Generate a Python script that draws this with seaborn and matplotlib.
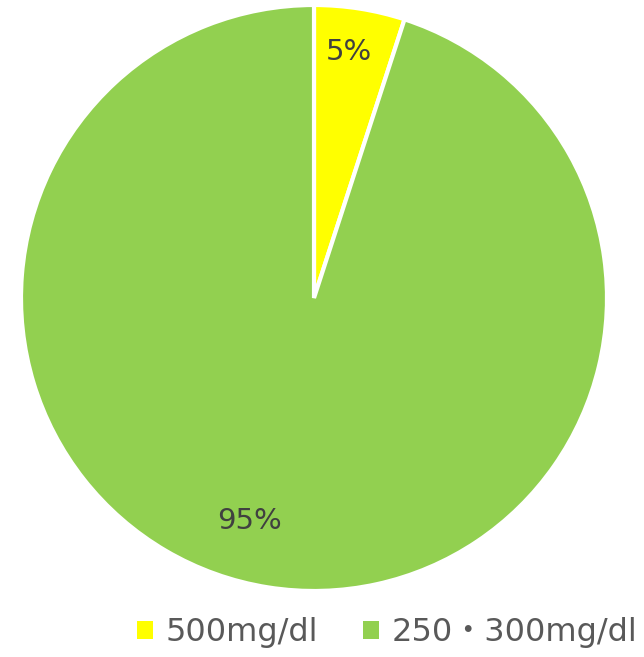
import matplotlib
matplotlib.use("Agg")
import matplotlib.pyplot as plt
import seaborn as sns
from matplotlib.patches import Patch

sns.set_theme(style="white")
plt.rcParams['font.family'] = ['DejaVu Sans', 'Noto Sans CJK JP']

categories = ["500mg/dl", "250・300mg/dl"]
values = [5, 95]
labels = ["5%", "95%"]
colors = ["#FFFF00", "#92D050"]

W, H = 644, 657
fig = plt.figure(figsize=(W / 100, H / 100), dpi=100)
cx, cy, r = 314, 298, 293
ax = fig.add_axes([(cx - r) / W, 1 - (cy + r) / H, 2 * r / W, 2 * r / H])
wedges, _ = ax.pie(values, colors=colors, startangle=90, counterclock=False,
                   radius=1.0,
                   wedgeprops=dict(edgecolor="white", linewidth=3))
ax.set_xlim(-1, 1)
ax.set_ylim(-1, 1)
ax.set_aspect("auto")
ax.axis("off")

label_pos = [(0.12, 0.84), (-0.22, -0.76)]
for (x, y), t in zip(label_pos, labels):
    ax.text(x, y, t, ha="center", va="center", fontsize=21, color="#404040")

handles = [Patch(facecolor=c, edgecolor="none") for c in colors]
fig.legend(handles, categories, loc="center", bbox_to_anchor=(387 / W, 1 - 633 / H),
           ncol=2, frameon=False, fontsize=23, handlelength=0.5, handleheight=0.5,
           handletextpad=0.4, columnspacing=1.4, labelcolor="#595959")

fig.savefig("out.png", dpi=100, facecolor="white")
